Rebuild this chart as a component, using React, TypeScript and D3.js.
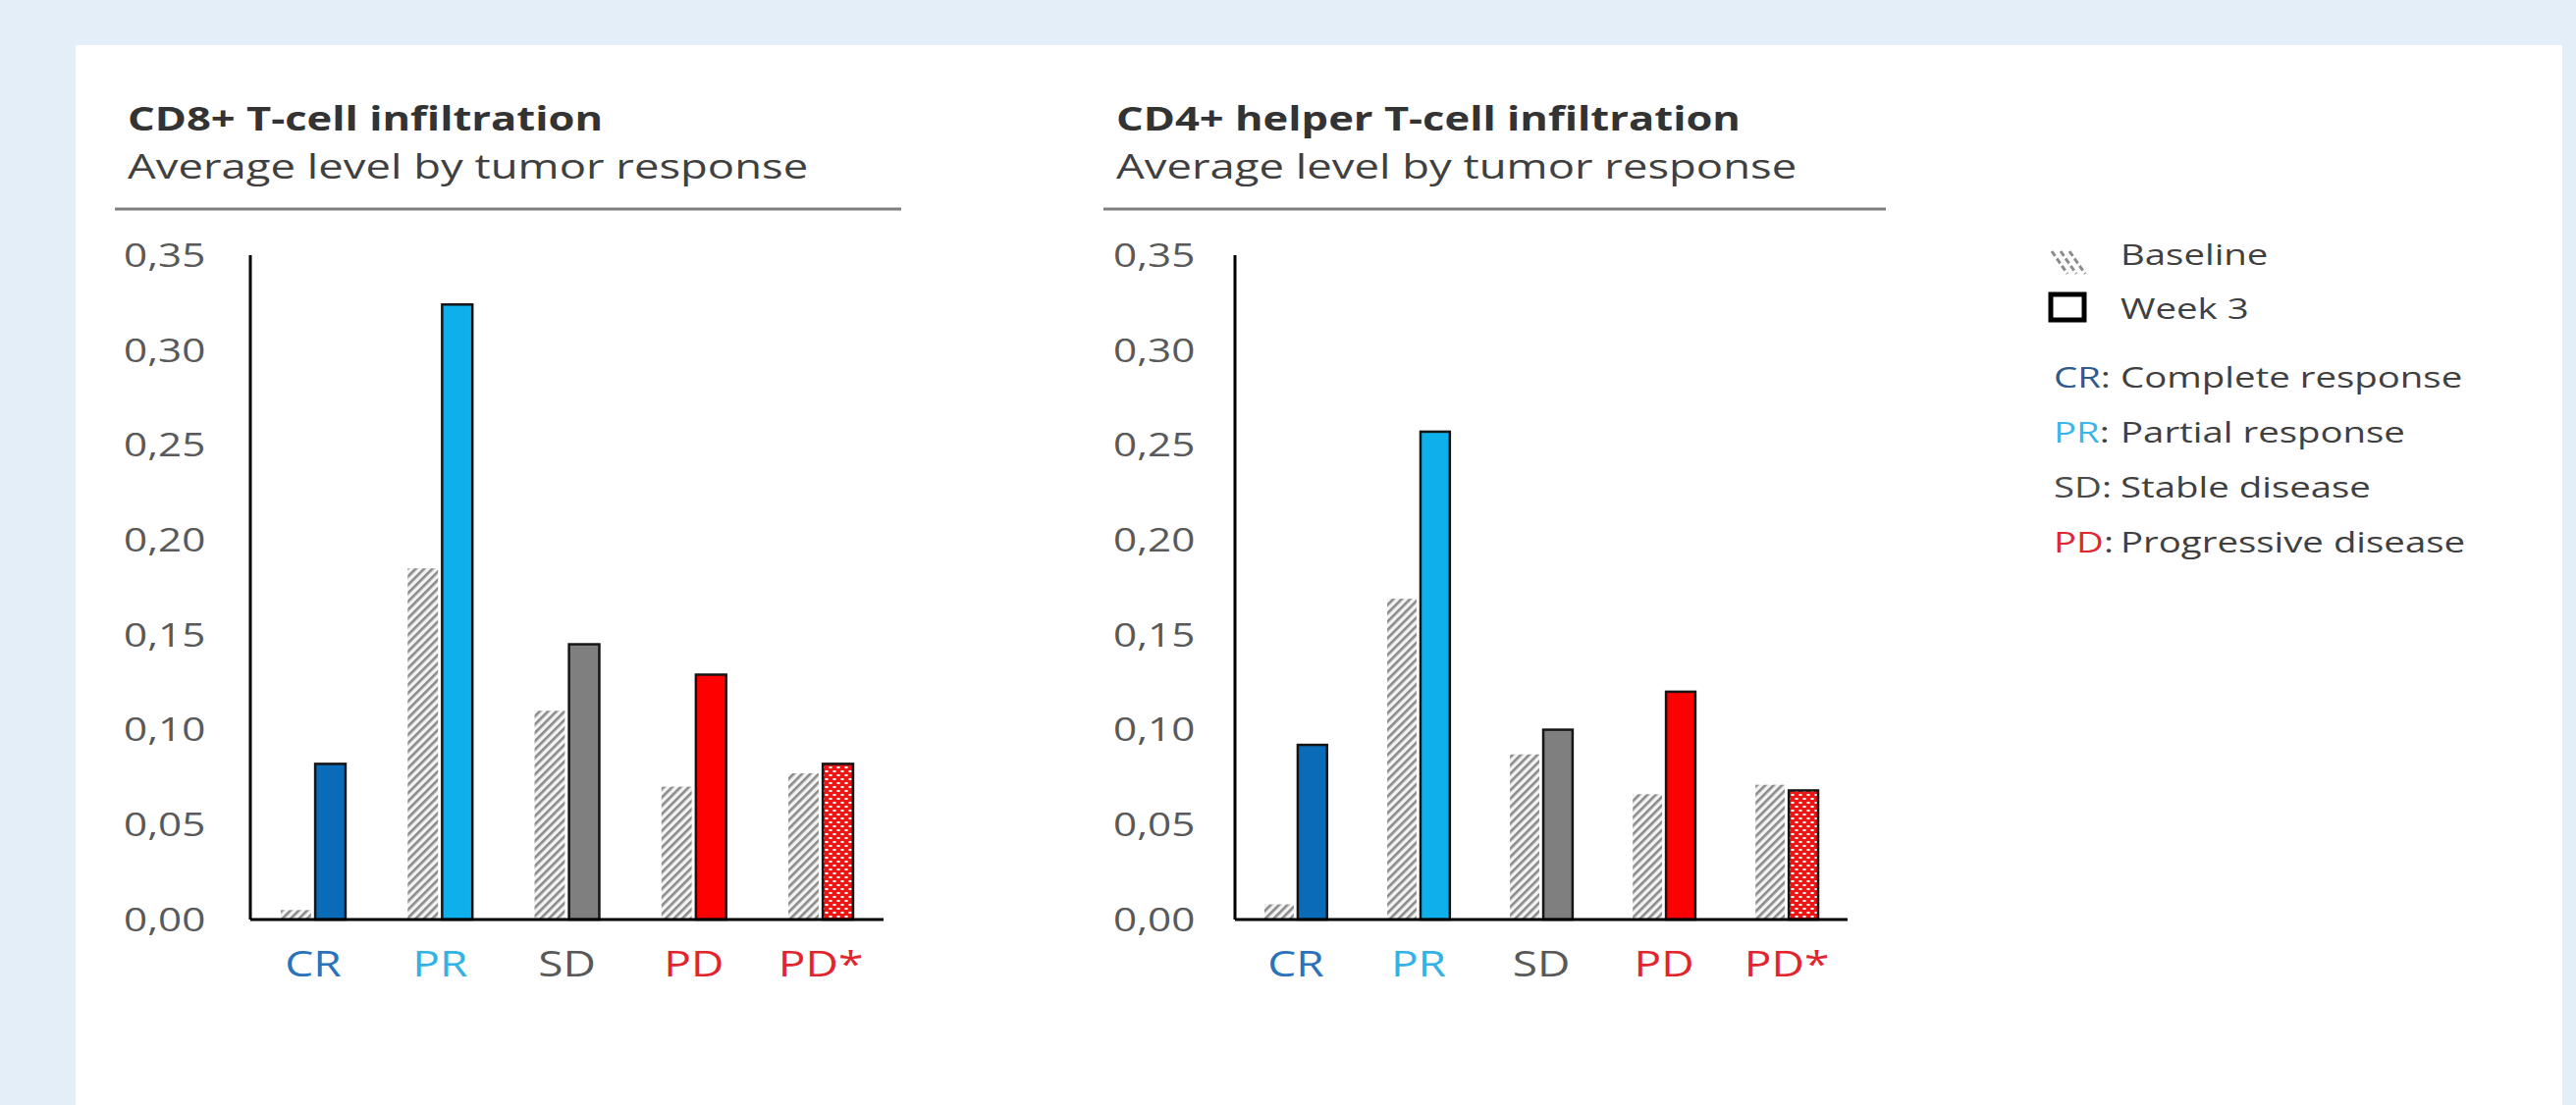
import React from 'react';
import * as d3 from 'd3';

// ---------- data ----------
const categories = ['CR', 'PR', 'SD', 'PD', 'PD*'];
const series = ['Baseline', 'Week 3'];
const cd8Baseline = [0.005, 0.185, 0.110, 0.070, 0.077];
const cd8Week3 = [0.082, 0.324, 0.145, 0.129, 0.082];
const cd4Baseline = [0.008, 0.169, 0.087, 0.066, 0.071];
const cd4Week3 = [0.092, 0.257, 0.100, 0.120, 0.068];
const yTicks = [0, 0.05, 0.1, 0.15, 0.2, 0.25, 0.3, 0.35];
const legendCodes = ['CR', 'PR', 'SD', 'PD'];
const legendDescriptions = ['Complete response', 'Partial response', 'Stable disease', 'Progressive disease'];

// ---------- styles ----------
const week3Fills = ['#0a6cb8', '#0eb0ec', '#7f7f7f', '#ff0000', 'url(#dotsRed)'];
const labelColors = ['#2a73bb', '#33b2e6', '#595959', '#e2252c', '#e2252c'];
const legendColors = ['#2f5a8c', '#3cb6ea', '#4a4a4a', '#e0262e'];
const FONT = "'Open Sans', 'Noto Sans', sans-serif";
const SX = 1.28;

const fmt = d3
  .formatLocale({ decimal: ',', thousands: '.', grouping: [3], currency: ['', ''] })
  .format('.2f');

function SText({ x, y, children, sx = SX, ...rest }: any) {
  return (
    <text transform={`translate(${x},${y}) scale(${sx},1)`} fontFamily={FONT} {...rest}>
      {children}
    </text>
  );
}

function Chart({ title, subtitle, baseline, week3, L }: any) {
  const y = d3.scaleLinear().domain([0, 0.35]).range([937, 260]);
  const x = d3
    .scaleBand()
    .domain(categories)
    .range([L.axisX, L.xEnd])
    .paddingInner(0.49)
    .paddingOuter(0.24);
  const sub = d3.scaleBand().domain(series).range([0, x.bandwidth()]).paddingInner(0.12);
  return (
    <g>
      <SText x={L.titleX} y={133} fontSize={34} fontWeight={700} fill="#333333">
        {title}
      </SText>
      <SText x={L.titleX} y={182} fontSize={35.5} fill="#404040">
        {subtitle}
      </SText>
      <line x1={L.ruleX1} x2={L.ruleX2} y1={213} y2={213} stroke="#7f7f7f" strokeWidth={3} />
      {yTicks.map((t) => (
        <SText key={t} x={L.labelX} y={y(t)} dy="0.36em" fontSize={33} fill="#595959">
          {fmt(t)}
        </SText>
      ))}
      {categories.map((c, i) => {
        const gx = x(c)!;
        return (
          <g key={c}>
            <rect
              x={gx + sub('Baseline')!}
              y={y(baseline[i])}
              width={sub.bandwidth()}
              height={y(0) - y(baseline[i])}
              fill="url(#hatch)"
            />
            <rect
              x={gx + sub('Week 3')!}
              y={y(week3[i])}
              width={sub.bandwidth()}
              height={y(0) - y(week3[i])}
              fill={week3Fills[i]}
              stroke="#151515"
              strokeWidth={2.5}
            />
            <SText
              x={gx + x.bandwidth() / 2}
              y={995}
              fontSize={36}
              textAnchor="middle"
              fill={labelColors[i]}
            >
              {c}
            </SText>
          </g>
        );
      })}
      <line x1={L.axisX} x2={L.axisX} y1={y(0.35)} y2={y(0)} stroke="#000" strokeWidth={3} />
      <line x1={L.axisX} x2={L.xEnd} y1={y(0)} y2={y(0)} stroke="#000" strokeWidth={3} />
    </g>
  );
}

function Legend() {
  const lx = 2092;
  const tx = 2160;
  return (
    <g>
      {[0, 1, 2].map((k) => (
        <line
          key={k}
          x1={2090 + k * 9}
          y1={256}
          x2={2106 + k * 9}
          y2={279}
          stroke="#8c8c8c"
          strokeWidth={3}
          strokeDasharray="6,3"
        />
      ))}
      <SText x={tx} y={270} fontSize={30} fill="#404040">
        {series[0]}
      </SText>
      <rect x={2089} y={300} width={34} height={26} fill="#fff" stroke="#000" strokeWidth={5} />
      <SText x={tx} y={325} fontSize={30} fill="#404040">
        {series[1]}
      </SText>
      {legendCodes.map((c, i) => (
        <g key={c}>
          <SText x={lx} y={395 + i * 56} fontSize={30} fill={legendColors[i]}>
            {c}
            <tspan fill="#404040">:</tspan>
          </SText>
          <SText x={tx} y={395 + i * 56} fontSize={30} fill="#404040">
            {legendDescriptions[i]}
          </SText>
        </g>
      ))}
    </g>
  );
}

export default function App() {
  return (
    <svg
      width={2624}
      height={1126}
      style={{ position: 'absolute', left: 0, top: 0, display: 'block' }}
    >
      <defs>
        <pattern
          id="hatch"
          patternUnits="userSpaceOnUse"
          width={6}
          height={6}
          patternTransform="rotate(45)"
        >
          <rect width={6} height={6} fill="#f3f3f3" />
          <rect width={2.6} height={6} fill="#8a8a8a" />
        </pattern>
        <pattern id="dotsRed" patternUnits="userSpaceOnUse" width={8} height={8}>
          <rect width={8} height={8} fill="#ee1515" />
          <rect x={0.5} y={1} width={3} height={2} fill="#ffffff" />
          <rect x={4.5} y={5} width={3} height={2} fill="#ffffff" />
        </pattern>
      </defs>
      <rect width={2624} height={1126} fill="#e3eef9" />
      <rect x={77} y={46} width={2533} height={1100} fill="#ffffff" />
      <Chart
        title="CD8+ T-cell infiltration"
        subtitle="Average level by tumor response"
        baseline={cd8Baseline}
        week3={cd8Week3}
        L={{ axisX: 255, xEnd: 900, labelX: 126, titleX: 130, ruleX1: 117, ruleX2: 918 }}
      />
      <Chart
        title="CD4+ helper T-cell infiltration"
        subtitle="Average level by tumor response"
        baseline={cd4Baseline}
        week3={cd4Week3}
        L={{ axisX: 1258, xEnd: 1882, labelX: 1134, titleX: 1137, ruleX1: 1124, ruleX2: 1921 }}
      />
      <Legend />
    </svg>
  );
}
